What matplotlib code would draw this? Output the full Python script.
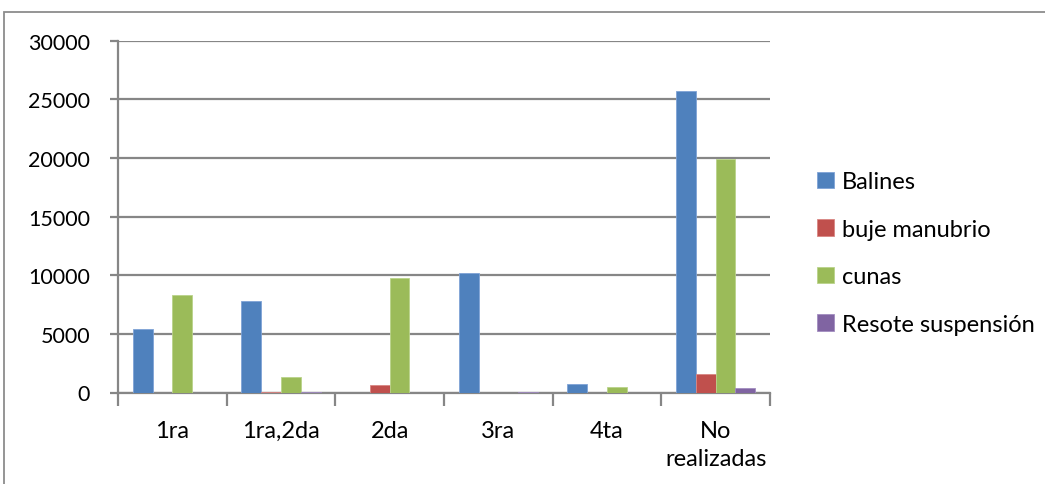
import matplotlib
matplotlib.use("Agg")
import matplotlib.pyplot as plt
import numpy as np
from matplotlib.patches import Rectangle

plt.rcParams['font.family'] = ['Lato', 'DejaVu Sans']

categories = ["1ra", "1ra,2da", "2da", "3ra", "4ta", "No\nrealizadas"]
series_names = ["Balines", "buje manubrio", "cunas", "Resote suspensión"]
balines = [5400, 7800, 0, 10200, 740, 25750]
buje_manubrio = [0, 60, 600, 0, 0, 1560]
cunas = [8350, 1280, 9750, 0, 450, 19900]
resote_suspension = [0, 40, 0, 50, 0, 400]
y_ticks = [0, 5000, 10000, 15000, 20000, 25000, 30000]

colors = ["#4F81BD", "#C0504D", "#9BBB59", "#8064A2"]
edges = ["#7FA3D6", "#D98683", "#BAD38A", "#A28DC0"]

fig = plt.figure(figsize=(10.45, 4.85), dpi=100)
ax = fig.add_axes([118 / 1045, 1 - 393.5 / 485, (770 - 118) / 1045, (393.5 - 41.7) / 485])

# outer chart frame
fig.patches.append(Rectangle((4 / 1045, -0.05), 1.1, 1 - 13 / 485 + 0.05,
                             transform=fig.transFigure, fill=False,
                             edgecolor="#8C8C8C", linewidth=1.3))

x = np.arange(len(categories))
bw = 1 / 5.5
data = [balines, buje_manubrio, cunas, resote_suspension]
for i, (vals, name) in enumerate(zip(data, series_names)):
    offs = (i - 1.5) * bw
    ax.bar(x + offs, vals, width=bw, color=colors[i], edgecolor=edges[i],
           linewidth=0.6, label=name, zorder=3)

ax.set_xlim(-0.5, len(categories) - 0.5)
ax.set_ylim(0, 30000)
ax.set_yticks(y_ticks)
ax.set_yticklabels([str(v) for v in y_ticks], fontsize=15.5)
ax.yaxis.grid(True, color="#868686", linewidth=1.6, zorder=0)
ax.set_axisbelow(True)

ax.set_xticks(x)
ax.set_xticklabels(categories, fontsize=17, linespacing=1.4, va="top")
ax.tick_params(axis="x", length=0, pad=20)
ax.set_xticks(np.arange(len(categories) + 1) - 0.5, minor=True)
ax.tick_params(axis="x", which="minor", length=9, width=1.6, color="#868686")
ax.tick_params(axis="y", length=6, width=1.6, color="#868686", pad=14)

for s in ["top", "right"]:
    ax.spines[s].set_visible(False)
for s in ["left", "bottom"]:
    ax.spines[s].set_color("#868686")
    ax.spines[s].set_linewidth(1.6)

leg = fig.legend(loc="center left", bbox_to_anchor=(796 / 1045, 1 - 254 / 485),
                 frameon=False, fontsize=17, handlelength=0.7, handleheight=0.7,
                 handletextpad=0.35, labelspacing=1.12)

fig.savefig("out.png", dpi=100)
